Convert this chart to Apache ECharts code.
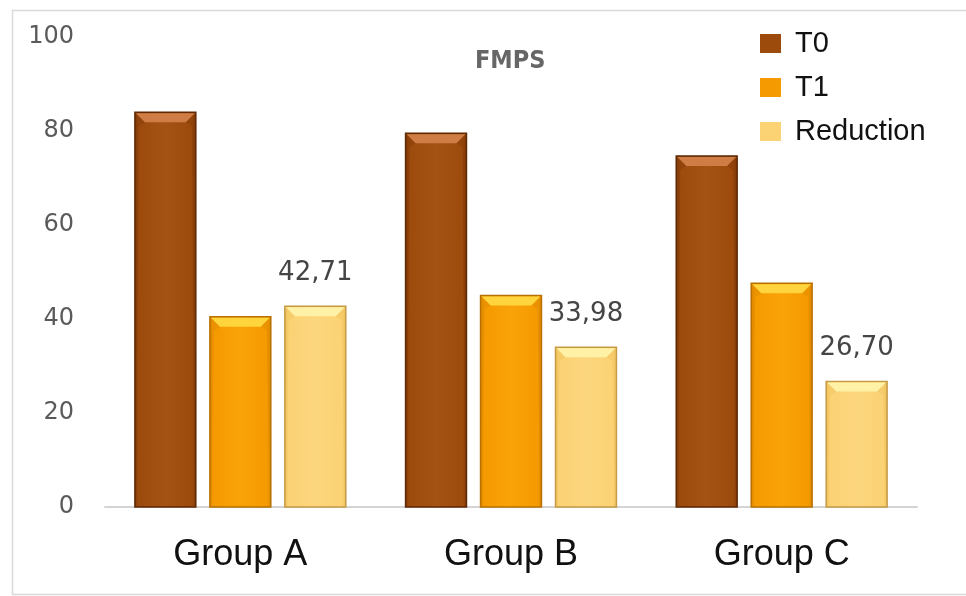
<!DOCTYPE html>
<html>
<head>
<meta charset="utf-8">
<script src="https://cdn.jsdelivr.net/npm/echarts@6/dist/echarts.min.js"></script>
<style>
  html, body { margin: 0; padding: 0; background: #ffffff; }
  #chart { width: 966px; height: 596px; }
</style>
</head>
<body>
<div id="chart"></div>
<script>
// FMPS scores per group: baseline (T0), follow-up (T1) and reduction
const categories = ['Group A', 'Group B', 'Group C'];
const seriesNames = ['T0', 'T1', 'Reduction'];
const t0Values = [84.0, 79.5, 74.7];
const t1Values = [40.5, 45.0, 47.6];
const reductionValues = [42.71, 33.98, 26.70];
const yTickValues = [0, 20, 40, 60, 80, 100];

// Bevelled bar palettes: body, lit top facet, shaded edges, outline
const palettes = [
  { body: '#9d4b0d', hi: '#a5531400', top: '#cf7d45', edge: '#7c3607', border: '#5f2904' },
  { body: '#f59a00', hi: '#f9a308', top: '#ffd43c', edge: '#d98500', border: '#b87000' },
  { body: '#fbd274', hi: '#fcd67e', top: '#fff2a6', edge: '#eebf5a', border: '#c59a45' }
];
palettes[0].hi = '#a55314';

const BAR_RATIO = 0.225;   // bar width as a share of the category band
const STEP_RATIO = 0.277;  // distance between neighbouring bar centres

function formatComma(v) {
  return v.toFixed(2).replace('.', ',');
}

function bevelBar(seriesIdx, showLabel) {
  const pal = palettes[seriesIdx];
  return function (params, api) {
    const cat = api.value(0);
    const val = api.value(1);
    const band = api.size([1, 0])[0];
    const w = band * BAR_RATIO;
    const base = api.coord([cat, 0]);
    const top = api.coord([cat, val]);
    const x = base[0] + (seriesIdx - 1) * band * STEP_RATIO - w / 2;
    const y0 = base[1];
    const y1 = top[1];
    const h = y0 - y1;
    const b = Math.min(10, h / 2);
    const s = 4;
    const children = [
      {
        type: 'rect',
        shape: { x: x, y: y1, width: w, height: h },
        style: {
          fill: new echarts.graphic.LinearGradient(0, 0, 1, 0, [
            { offset: 0, color: pal.edge },
            { offset: 0.07, color: pal.body },
            { offset: 0.5, color: pal.hi },
            { offset: 0.93, color: pal.body },
            { offset: 1, color: pal.edge }
          ]),
          stroke: pal.border,
          lineWidth: 1.5
        }
      },
      {
        type: 'polygon',
        shape: { points: [[x + 1, y1 + 1], [x + w - 1, y1 + 1], [x + w - b, y1 + b], [x + b, y1 + b]] },
        style: { fill: pal.top }
      },
      {
        type: 'polygon',
        shape: { points: [[x + 1, y1 + 1], [x + b, y1 + b], [x + s, y1 + b + 4], [x + 1, y0]] },
        style: { fill: pal.edge, opacity: 0.35 }
      },
      {
        type: 'polygon',
        shape: { points: [[x + w - 1, y1 + 1], [x + w - b, y1 + b], [x + w - s, y1 + b + 4], [x + w - 1, y0]] },
        style: { fill: pal.edge, opacity: 0.35 }
      }
    ];
    if (showLabel) {
      children.push({
        type: 'text',
        x: x + w / 2,
        y: y1 - 20,
        style: {
          text: formatComma(val),
          align: 'center',
          verticalAlign: 'bottom',
          fontFamily: 'DejaVu Sans',
          fontSize: 26,
          fill: '#454545'
        }
      });
    }
    return { type: 'group', children: children };
  };
}

function toData(values) {
  return values.map(function (v, i) { return [i, v]; });
}

const valueSets = [t0Values, t1Values, reductionValues];

const chart = echarts.init(document.getElementById('chart'), null, { renderer: 'canvas' });

chart.setOption({
  backgroundColor: '#ffffff',
  animation: false,
  title: {
    text: 'FMPS',
    left: 470,
    top: 44,
    textStyle: {
      fontFamily: "'DejaVu Sans Condensed', 'DejaVu Sans'",
      fontWeight: 'bold',
      fontSize: 25,
      color: '#666666'
    }
  },
  legend: {
    orient: 'vertical',
    left: 755,
    top: 24,
    itemWidth: 21,
    itemHeight: 19,
    itemGap: 15,
    icon: 'rect',
    data: seriesNames,
    textStyle: {
      fontFamily: "'Liberation Sans', Arial, sans-serif",
      fontSize: 29,
      color: '#111111',
      padding: [0, 0, 0, 9]
    }
  },
  graphic: [
    {
      type: 'rect',
      left: 10,
      top: 8,
      shape: { width: 1000, height: 584 },
      style: { fill: 'none', stroke: '#d9d9d9', lineWidth: 1.5 },
      silent: true,
      z: -1
    }
  ],
  grid: { left: 105, right: 49, top: 37, bottom: 89, containLabel: false },
  xAxis: {
    type: 'category',
    data: categories,
    axisLine: { show: true, lineStyle: { color: '#d4d4d4', width: 2 } },
    axisTick: { show: false },
    axisLabel: {
      margin: 30,
      fontFamily: "'Liberation Sans', Arial, sans-serif",
      fontSize: 36,
      color: '#111111'
    },
    splitLine: { show: false }
  },
  yAxis: {
    type: 'value',
    min: yTickValues[0],
    max: yTickValues[yTickValues.length - 1],
    interval: 20,
    axisLine: { show: false },
    axisTick: { show: false },
    splitLine: { show: false },
    axisLabel: {
      margin: 31,
      fontFamily: 'DejaVu Sans',
      fontSize: 24,
      color: '#5a5a5a'
    }
  },
  series: seriesNames.map(function (name, i) {
    return {
      name: name,
      type: 'custom',
      renderItem: bevelBar(i, name === 'Reduction'),
      encode: { x: 0, y: 1 },
      itemStyle: { color: palettes[i].body },
      data: toData(valueSets[i])
    };
  })
});
</script>
</body>
</html>
